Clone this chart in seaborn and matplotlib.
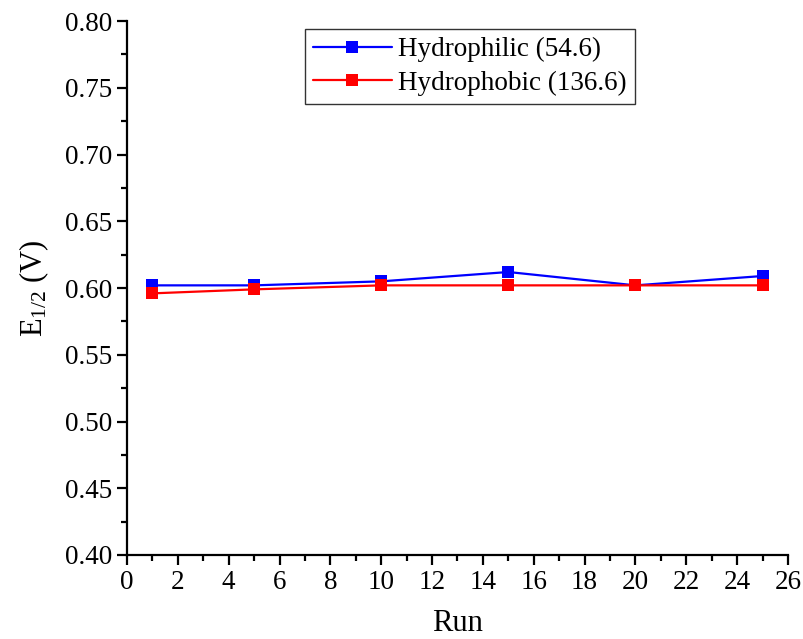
import matplotlib
matplotlib.use("Agg")
import matplotlib.pyplot as plt
from matplotlib.ticker import MultipleLocator, FormatStrFormatter
import pandas as pd
import seaborn as sns

# Half-wave potential over repeated runs
runs = [1, 5, 10, 15, 20, 25]
hydrophilic = [0.602, 0.602, 0.605, 0.612, 0.602, 0.609]
hydrophobic = [0.596, 0.599, 0.602, 0.602, 0.602, 0.602]
series_names = ["Hydrophilic (54.6)", "Hydrophobic (136.6)"]
series_colors = ["#0000FF", "#FF0000"]

df = pd.DataFrame({
    "Run": runs * 2,
    "E": hydrophilic + hydrophobic,
    "Sample": [series_names[0]] * len(runs) + [series_names[1]] * len(runs),
})

sns.set_theme(style="ticks")
plt.rcParams["font.family"] = ["Liberation Serif", "DejaVu Serif"]
plt.rcParams["mathtext.fontset"] = "custom"
plt.rcParams["mathtext.rm"] = "Liberation Serif"
plt.rcParams["mathtext.it"] = "Liberation Serif:italic"
plt.rcParams["text.color"] = "black"
plt.rcParams["axes.labelcolor"] = "black"

fig = plt.figure(figsize=(8.04, 6.39), dpi=100)
ax = fig.add_axes([0.158, 0.1315, 0.822, 0.8355])

sns.lineplot(
    data=df, x="Run", y="E", hue="Sample",
    palette=dict(zip(series_names, series_colors)),
    marker="s", markersize=9, markeredgewidth=0, linewidth=1.6,
    dashes=False, ax=ax,
)

ax.set_xlim(0, 26)
ax.set_ylim(0.40, 0.80)
ax.xaxis.set_major_locator(MultipleLocator(2))
ax.xaxis.set_minor_locator(MultipleLocator(1))
ax.yaxis.set_major_locator(MultipleLocator(0.05))
ax.yaxis.set_minor_locator(MultipleLocator(0.025))
ax.yaxis.set_major_formatter(FormatStrFormatter("%.2f"))

for side in ["top", "right"]:
    ax.spines[side].set_visible(False)
for side in ["left", "bottom"]:
    ax.spines[side].set_linewidth(1.6)
    ax.spines[side].set_color("black")

ax.tick_params(which="major", direction="out", length=7, width=1.6,
               labelsize=19.5, colors="black", labelcolor="black", pad=4)
ax.tick_params(which="minor", direction="out", length=4, width=1.6,
               colors="black")

ax.set_xlabel("Run", fontsize=22, labelpad=10, color="black")
ax.set_ylabel("E$_{1/2}$ (V)", fontsize=22, labelpad=10, color="black")

leg = ax.legend(loc="upper center", bbox_to_anchor=(0.519, 0.995), fontsize=19.5,
                frameon=True, fancybox=False, edgecolor="black",
                handlelength=2.9, borderpad=0.3, labelspacing=0.3,
                handletextpad=0.25, borderaxespad=0.2, markerscale=0.9)
leg.get_frame().set_linewidth(1.0)
for t in leg.get_texts():
    t.set_color("black")

fig.savefig("out.png", dpi=100)
